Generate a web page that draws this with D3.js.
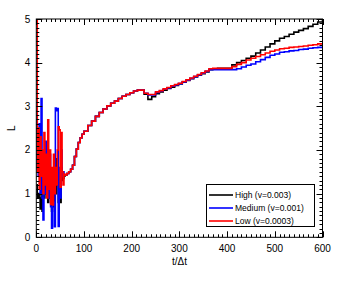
<!DOCTYPE html>
<html>
<head>
<meta charset="utf-8">
<script src="https://cdn.jsdelivr.net/npm/d3@7"></script>
<style>
  body { margin: 0; background: #fff; }
  svg text { font-family: "Liberation Sans", Arial, sans-serif; fill: #000; }
</style>
</head>
<body>
<svg id="chart" width="360" height="282"></svg>
<script>
// Serienamn och färger
const seriesNames = ["High (v=0.003)", "Medium (v=0.001)", "Low (v=0.0003)"];
const seriesColors = ["#000000", "#0000ff", "#ff0000"];

// Tidig kaotisk fas (t, L)
const earlyT = [0, 2, 4, 6, 8, 10, 12, 14, 16, 18, 20, 22, 24, 26, 28, 30, 32, 34, 36, 38, 40, 42, 44, 46, 48, 50, 52, 54, 56, 58];
const earlyHigh = [1.2, 0.9, 1.0, 0.9, 0.65, 1.5, 0.6, 1.3, 0.9, 1.6, 1.0, 1.3, 0.8, 1.4, 0.9, 1.5, 0.6, 1.2, 0.7, 1.5, 1.0, 1.8, 1.2, 0.8, 1.4, 0.8, 1.6, 1.3, 1.35, 1.4];
const earlyMedium = [2.9, 1.6, 1.4, 2.6, 1.0, 3.18, 0.9, 0.4, 1.8, 1.0, 2.2, 1.2, 1.5, 0.9, 1.9, 0.7, 0.21, 1.5, 0.8, 0.24, 2.96, 2.9, 2.95, 0.25, 1.6, 0.9, 2.0, 1.4, 1.5, 1.42];
const earlyLow = [5.0, 1.5, 2.5, 1.1, 2.3, 1.4, 2.0, 1.0, 2.4, 1.2, 1.9, 0.9, 2.69, 1.1, 2.0, 0.75, 1.6, 0.74, 1.9, 1.0, 1.6, 1.2, 2.0, 2.53, 2.46, 1.15, 2.4, 1.5, 1.2, 1.45];

// Gemensam uppgång
const riseT = [60, 64, 68, 72, 76, 80, 84, 88, 92, 96, 100, 108, 116, 124, 132, 140, 148, 156, 164, 172, 180, 188, 196, 204, 212, 220];
const riseL = [1.42, 1.46, 1.5, 1.56, 1.65, 1.85, 2.02, 2.17, 2.28, 2.36, 2.43, 2.56, 2.66, 2.77, 2.86, 2.94, 3.01, 3.07, 3.12, 3.18, 3.23, 3.27, 3.31, 3.35, 3.37, 3.37];

// Mellanfas
const midT = [226, 234, 242, 250, 258, 266, 274, 282, 290, 298, 306, 314, 322, 330, 338, 346, 354, 362, 370, 380, 390];
const midHigh = [3.28, 3.16, 3.22, 3.29, 3.33, 3.37, 3.41, 3.44, 3.48, 3.51, 3.55, 3.59, 3.63, 3.67, 3.71, 3.75, 3.79, 3.84, 3.86, 3.87, 3.87];
const midMedium = [3.3, 3.26, 3.26, 3.32, 3.35, 3.39, 3.42, 3.46, 3.49, 3.52, 3.56, 3.6, 3.64, 3.68, 3.72, 3.76, 3.8, 3.84, 3.84, 3.84, 3.84];
const midLow = [3.3, 3.27, 3.27, 3.33, 3.36, 3.4, 3.43, 3.47, 3.5, 3.53, 3.57, 3.61, 3.65, 3.69, 3.73, 3.77, 3.81, 3.86, 3.87, 3.87, 3.87];

// Sen fas
const lateT = [400, 410, 420, 430, 440, 450, 460, 470, 480, 490, 500, 510, 520, 530, 540, 550, 560, 570, 580, 590, 600];
const lateHigh = [3.87, 3.95, 4.0, 4.05, 4.1, 4.15, 4.22, 4.29, 4.36, 4.43, 4.5, 4.56, 4.6, 4.65, 4.7, 4.74, 4.78, 4.83, 4.88, 4.93, 4.98];
const lateMedium = [3.84, 3.84, 3.86, 3.9, 3.94, 3.97, 4.02, 4.07, 4.12, 4.17, 4.2, 4.24, 4.25, 4.27, 4.28, 4.3, 4.31, 4.33, 4.34, 4.35, 4.35];
const lateLow = [3.87, 3.91, 3.96, 4.0, 4.06, 4.1, 4.14, 4.18, 4.22, 4.26, 4.29, 4.32, 4.33, 4.35, 4.36, 4.37, 4.38, 4.4, 4.41, 4.43, 4.44];

const xTicks = [0, 100, 200, 300, 400, 500, 600];
const yTicks = [0, 1, 2, 3, 4, 5];

function zipT(ts, vs) { return ts.map((t, i) => ({ t, v: vs[i] })); }

const seriesData = [
  [...zipT(earlyT, earlyHigh), ...zipT(riseT, riseL), ...zipT(midT, midHigh), ...zipT(lateT, lateHigh)],
  [...zipT(earlyT, earlyMedium), ...zipT(riseT, riseL), ...zipT(midT, midMedium), ...zipT(lateT, lateMedium)],
  [...zipT(earlyT, earlyLow), ...zipT(riseT, riseL), ...zipT(midT, midLow), ...zipT(lateT, lateLow)]
];

const svg = d3.select("#chart");
const m = { left: 36.3, right: 322.5, top: 19, bottom: 237.3 };

const x = d3.scaleLinear().domain([0, 600]).range([m.left, m.right]);
const y = d3.scaleLinear().domain([0, 5]).range([m.bottom, m.top]);

const clip = svg.append("defs").append("clipPath").attr("id", "plotclip");
clip.append("rect")
  .attr("x", m.left).attr("y", m.top)
  .attr("width", m.right - m.left).attr("height", m.bottom - m.top);

// Linjer
const line = d3.line()
  .x(d => x(d.t))
  .y(d => y(d.v))
  .curve(d3.curveStepAfter);

const gLines = svg.append("g").attr("clip-path", "url(#plotclip)");
seriesData.forEach((data, i) => {
  gLines.append("path")
    .datum(data)
    .attr("d", line)
    .attr("fill", "none")
    .attr("stroke", seriesColors[i])
    .attr("stroke-width", 1.6);
});

// Ram och tickmarkeringar (inåt på alla sidor)
const gAxes = svg.append("g").attr("stroke", "#000").attr("stroke-width", 1);
const xMinor = d3.range(0, 601, 10);
const yMinor = d3.range(0, 5.001, 0.1);

xMinor.forEach(v => {
  const len = v % 100 === 0 ? 6 : 3;
  const px = Math.round(x(v)) + 0.5;
  gAxes.append("line").attr("x1", px).attr("x2", px).attr("y1", m.bottom).attr("y2", m.bottom - len);
  gAxes.append("line").attr("x1", px).attr("x2", px).attr("y1", m.top).attr("y2", m.top + len);
});
yMinor.forEach(v => {
  const major = Math.abs(v - Math.round(v)) < 1e-6;
  const len = major ? 6 : 3;
  const py = Math.round(y(v)) + 0.5;
  gAxes.append("line").attr("x1", m.left).attr("x2", m.left + len).attr("y1", py).attr("y2", py);
  gAxes.append("line").attr("x1", m.right).attr("x2", m.right - len).attr("y1", py).attr("y2", py);
});

svg.append("rect")
  .attr("x", m.left).attr("y", m.top)
  .attr("width", m.right - m.left).attr("height", m.bottom - m.top)
  .attr("fill", "none").attr("stroke", "#000").attr("stroke-width", 1);

// Etiketter
svg.append("g").selectAll("text").data(xTicks).join("text")
  .attr("x", d => x(d))
  .attr("y", m.bottom + 15)
  .attr("text-anchor", "middle")
  .style("font-size", "10px")
  .text(d => d);

svg.append("g").selectAll("text").data(yTicks).join("text")
  .attr("x", m.left - 6)
  .attr("y", d => y(d) + 3.5)
  .attr("text-anchor", "end")
  .style("font-size", "10px")
  .text(d => d);

svg.append("text")
  .attr("x", (m.left + m.right) / 2)
  .attr("y", 265)
  .attr("text-anchor", "middle")
  .style("font-size", "10px")
  .text("t/\u0394t");

svg.append("text")
  .attr("transform", `translate(15, ${(m.top + m.bottom) / 2}) rotate(-90)`)
  .attr("text-anchor", "middle")
  .style("font-size", "10px")
  .text("L");

// Förklaring
const legend = svg.append("g").attr("transform", "translate(206,184)");
legend.append("rect")
  .attr("x", 0.5).attr("y", 0.5)
  .attr("width", 108).attr("height", 42)
  .attr("fill", "#fff").attr("stroke", "#000").attr("stroke-width", 1);

seriesNames.forEach((name, i) => {
  const ly = 11 + i * 13;
  legend.append("line")
    .attr("x1", 3).attr("x2", 27)
    .attr("y1", ly).attr("y2", ly)
    .attr("stroke", seriesColors[i]).attr("stroke-width", 1.6);
  legend.append("text")
    .attr("x", 29).attr("y", ly + 3)
    .style("font-size", "8.5px")
    .text(name);
});
</script>
</body>
</html>
